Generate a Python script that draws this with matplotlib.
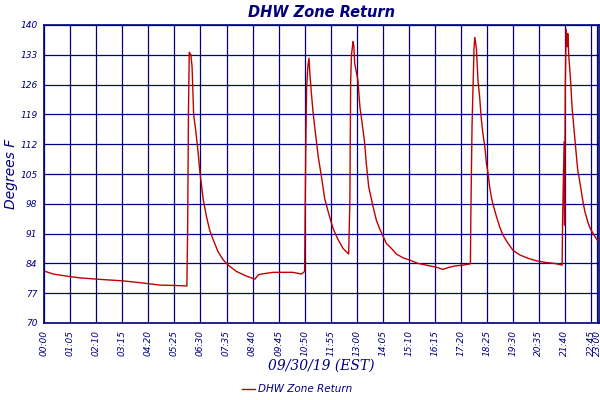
import matplotlib
matplotlib.use("Agg")
import matplotlib.pyplot as plt

# readings for 09/30/19, time of day and degrees F
times = [
    "00:00", "00:22", "00:57", "01:29", "02:11", "03:16", "04:06", "04:49", "05:31", "05:56",
    "05:58", "06:00", "06:02", "06:06", "06:09", "06:13", "06:18", "06:24", "06:28", "06:33",
    "06:37", "06:45", "06:53", "07:02", "07:14", "07:27", "07:39", "08:00", "08:25", "08:46",
    "08:54", "09:02", "09:31", "10:21", "10:42", "10:50",
    "10:51", "10:53", "10:55", "10:58", "11:01", "11:03", "11:07", "11:11", "11:17", "11:24",
    "11:32", "11:40", "11:49", "12:01", "12:14", "12:26", "12:40",
    "12:41", "12:43", "12:45", "12:47", "12:51", "12:53", "12:55", "13:03", "13:08", "13:12",
    "13:20", "13:24", "13:30", "13:41", "13:49", "13:57", "14:06", "14:14", "14:27", "14:39",
    "14:56", "15:12", "15:33", "15:54", "16:19", "16:35", "16:48", "17:05", "17:25", "17:44",
    "17:45", "17:48", "17:51", "17:53", "17:55", "17:59", "18:03", "18:07", "18:11", "18:15",
    "18:20", "18:24", "18:28", "18:32", "18:36", "18:40", "18:49", "18:57", "19:05", "19:18",
    "19:30", "19:47", "20:08", "20:29", "20:54", "21:14", "21:33",
    "21:34", "21:38", "21:39", "21:41", "21:43", "21:46", "21:47", "21:50", "21:54", "21:58",
    "22:02", "22:05", "22:08", "22:12", "22:17", "22:21", "22:25", "22:30", "22:37", "22:43",
    "22:50", "22:59", "23:02",
]
temps = [
    82.2, 81.5, 81.0, 80.6, 80.3, 79.9, 79.4, 78.9, 78.8, 78.7,
    92.4, 119.6, 133.6, 133.0, 130.2, 118.9, 115.3, 110.2, 105.9, 102.0,
    98.9, 95.0, 91.8, 89.5, 86.7, 84.8, 83.6, 82.1, 81.0, 80.3,
    81.3, 81.5, 81.9, 81.9, 81.5, 82.1,
    92.2, 112.2, 125.1, 130.2, 132.2, 128.7, 123.9, 119.6, 114.6, 109.1,
    104.4, 99.3, 96.1, 92.2, 89.5, 87.5, 86.2,
    90.4, 98.5, 126.7, 133.0, 136.1, 135.0, 131.0, 127.1, 120.8, 118.1,
    112.2, 107.5, 102.0, 97.3, 94.2, 92.2, 90.4, 88.7, 87.5, 86.2,
    85.3, 84.8, 84.0, 83.6, 83.1, 82.6, 83.0, 83.4, 83.6, 83.9,
    94.6, 116.1, 126.7, 134.5, 137.1, 134.5, 126.7, 123.2, 118.1, 114.6,
    111.4, 107.5, 105.2, 102.0, 99.7, 98.0, 95.0, 92.6, 90.7, 88.7,
    87.1, 86.0, 85.2, 84.6, 84.2, 84.0, 83.6,
    93.3, 112.6, 93.0, 126.7, 139.0, 134.9, 138.0, 132.2, 127.1, 120.4,
    116.1, 113.0, 109.9, 105.9, 103.2, 100.8, 98.5, 96.1, 93.8, 92.2,
    91.1, 89.7, 89.3,
]

tick_labels = ["00:00", "01:05", "02:10", "03:15", "04:20", "05:25", "06:30", "07:35",
               "08:40", "09:45", "10:50", "11:55", "13:00", "14:05", "15:10", "16:15",
               "17:20", "18:25", "19:30", "20:35", "21:40", "22:45", "23:00"]
y_ticks = [70, 77, 84, 91, 98, 105, 112, 119, 126, 133, 140]


def to_min(s):
    h, m = s.split(":")
    return int(h) * 60 + int(m)


navy = "#000080"
red = "#C00000"

fig = plt.figure(figsize=(6, 4), dpi=100)
ax = fig.add_axes([0.0738, 0.1925, 0.9245, 0.745])

x = [to_min(t) for t in times]
ax.plot(x, temps, color=red, lw=1.0, label="DHW Zone Return")

ax.set_xlim(0, 1385)
ax.set_ylim(70, 140)
ax.set_xticks([to_min(t) for t in tick_labels])
ax.set_xticklabels(tick_labels, rotation=90, fontsize=6.5, style="italic", color=navy)
ax.set_yticks(y_ticks)
ax.set_yticklabels([str(v) for v in y_ticks], fontsize=6.5, style="italic", color=navy)
ax.tick_params(length=0, pad=5)
ax.grid(True, color=navy, lw=0.9)
for sp in ax.spines.values():
    sp.set_color(navy)
    sp.set_linewidth(1.2)

ax.set_title("DHW Zone Return", fontsize=10.5, style="italic", fontweight="bold",
             color=navy, pad=6)
fig.text(0.018, 0.565, "Degrees F", rotation=90, fontsize=10, style="italic",
         color=navy, ha="center", va="center")
fig.text(0.536, 0.085, "09/30/19 (EST)", fontsize=10, style="italic",
         color=navy, ha="center", va="center", family="DejaVu Serif")

leg = fig.legend(loc="center", bbox_to_anchor=(0.495, 0.027), frameon=False,
                 fontsize=7.5, handlelength=1.3, handletextpad=0.3)
for txt in leg.get_texts():
    txt.set_color(navy)
    txt.set_style("italic")

fig.savefig("out.png", dpi=100)
